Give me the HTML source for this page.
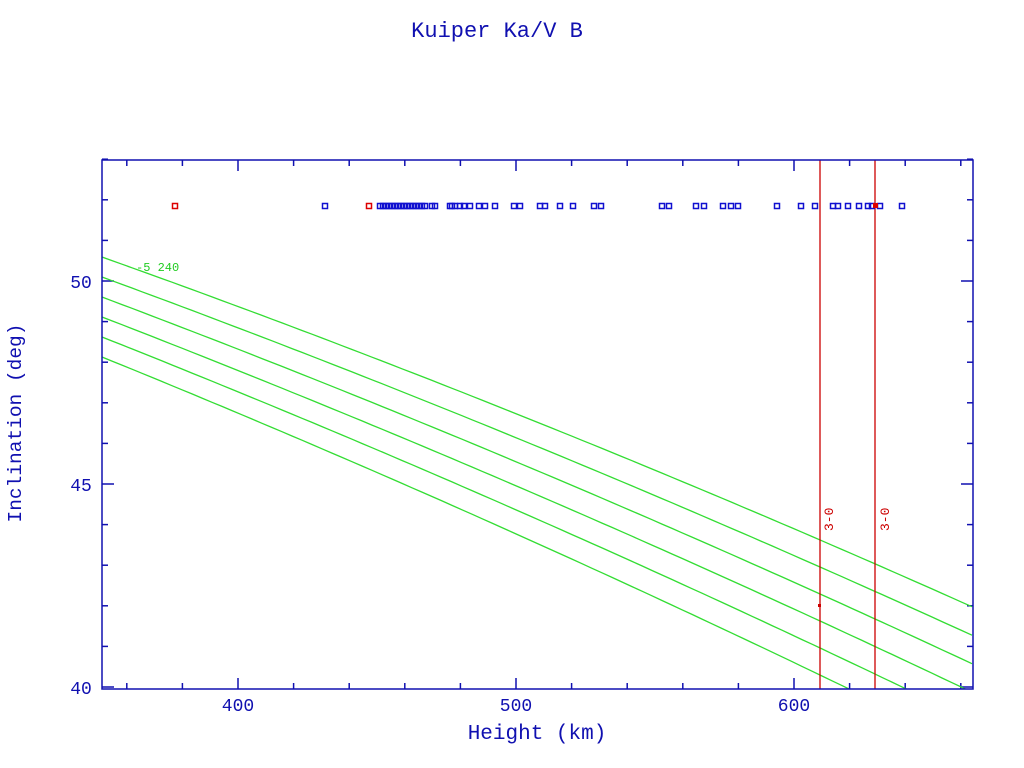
<!DOCTYPE html>
<html><head><meta charset="utf-8"><style>
html,body{margin:0;padding:0;background:#fff;width:1024px;height:768px;overflow:hidden}
</style></head><body>
<svg id="s" width="1024" height="768" xmlns="http://www.w3.org/2000/svg" font-family="Liberation Mono, monospace">
<rect width="1024" height="768" fill="#fff"/>
<text x="497" y="37" fill="#1010b0" font-size="22" text-anchor="middle">Kuiper Ka/V B</text>
<text x="537" y="739" fill="#1010b0" font-size="21" text-anchor="middle">Height (km)</text>
<text transform="translate(21,423) rotate(-90)" fill="#1010b0" font-size="19.5" text-anchor="middle">Inclination (deg)</text>
<g fill="#1010b0" font-size="18" text-anchor="middle">
<text x="238" y="711">400</text><text x="516" y="711">500</text><text x="794" y="711">600</text>
<text x="81" y="288">50</text><text x="81" y="491">45</text><text x="81" y="694">40</text>
</g>
<g id="g"></g>
<rect x="102" y="160" width="871" height="529" fill="none" stroke="#1010b0" stroke-width="1.5"/>
<text x="136" y="271" fill="#22cc22" font-size="12">-5 240</text>
<g fill="#cc0000" font-size="13">
<text transform="translate(833,531) rotate(-90)">3-0</text>
<text transform="translate(889,531) rotate(-90)">3-0</text>
</g>
</svg>
<script>
var g=document.getElementById('g'),h='';
function X(v){return 238+(v-400)*2.78}
function Y(v){return 281-(v-50)*40.6}
for(var v=360;v<=660;v+=20){var x=X(v),L=(v%100==0)?11:6;
h+='<line x1="'+x+'" y1="689" x2="'+x+'" y2="'+(689-L)+'" stroke="#1010b0" stroke-width="1.5"/>';
h+='<line x1="'+x+'" y1="160" x2="'+x+'" y2="'+(160+L)+'" stroke="#1010b0" stroke-width="1.5"/>';}
for(var v=40;v<=53;v++){var y=Y(v),L=(v%5==0)?12:6;
h+='<line x1="102" y1="'+y+'" x2="'+(102+L)+'" y2="'+y+'" stroke="#1010b0" stroke-width="1.5"/>';
h+='<line x1="973" y1="'+y+'" x2="'+(973-L)+'" y2="'+y+'" stroke="#1010b0" stroke-width="1.5"/>';}
h+='<defs><clipPath id="c"><rect x="102" y="160" width="871" height="529"/></clipPath></defs><g clip-path="url(#c)">';
for(var i=0;i<6;i++){var p='';for(var t=0;t<=871;t+=10){var y=257+0.357*t+5.17e-5*t*t+i*(20+8.5*t/871);p+=(102+t)+','+y.toFixed(1)+' ';}
h+='<polyline points="'+p+'" fill="none" stroke="#33dd33" stroke-width="1.3"/>';}
h+='</g>';
h+='<line x1="820" y1="160" x2="820" y2="689" stroke="#cc0000" stroke-width="1.3"/><line x1="875" y1="160" x2="875" y2="689" stroke="#cc0000" stroke-width="1.3"/>';
h+='<rect x="818" y="604" width="3" height="3" fill="#cc0000"/>';
[175,369].forEach(function(x){h+='<rect x="'+(x-2.5)+'" y="203.5" width="5" height="5" fill="none" stroke="#dd0000" stroke-width="1.5"/>';});
var bl=[325,380,383,386,389,392,395,398,401,404,407,410,413,416,419,422,425,432,435,450,452,455,460,464,470,479,485,495,514,520,540,545,560,573,594,601,662,669,696,704,723,731,738,777,801,815,833,838,848,859,868,872,880,902];
bl.forEach(function(x){h+='<rect x="'+(x-2.5)+'" y="203.5" width="5" height="5" fill="none" stroke="#1010d0" stroke-width="1.5"/>';});
h+='<rect x="873" y="203" width="5" height="5" fill="#dd0000"/>';
g.innerHTML=h;
</script>
</body></html>
